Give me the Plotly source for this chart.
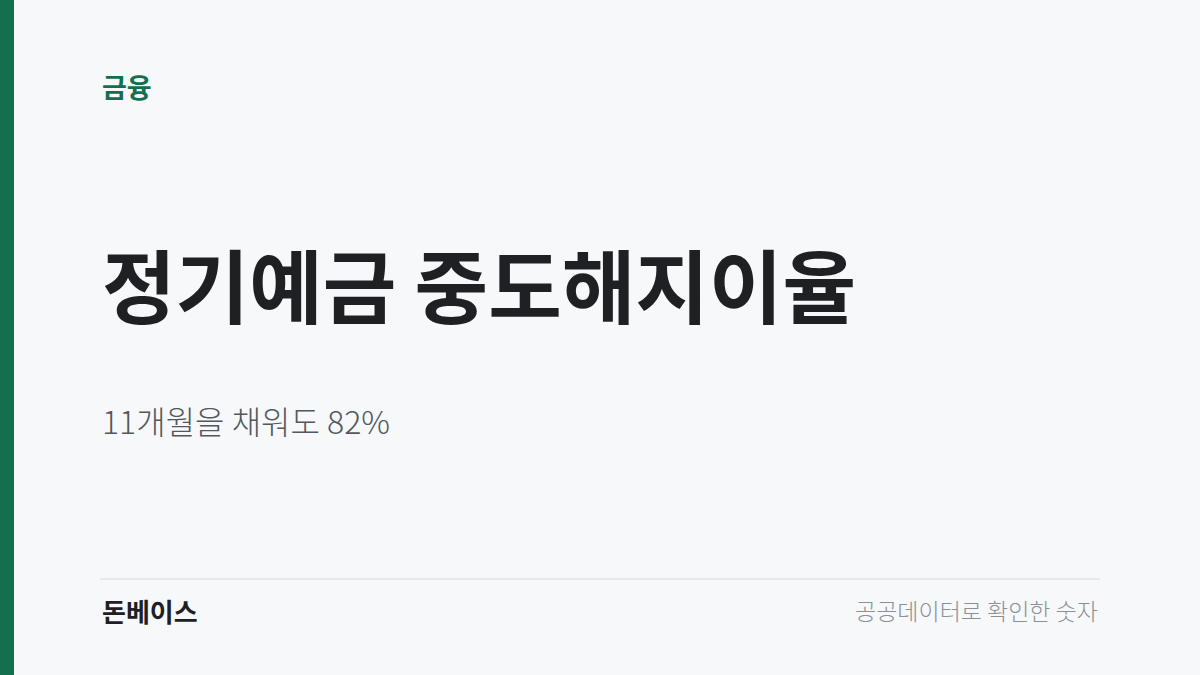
import plotly.graph_objects as go

# card texts
category = '금융'
title = '정기예금 중도해지이율'
subtitle = '11개월을 채워도 82%'
brand = '돈베이스'
tagline = '공공데이터로 확인한 숫자'

W, H = 1200, 675
FONT = 'Noto Sans CJK KR'
GREEN = '#13704f'


def px_x(x):
    return x / W


def px_y(y):
    return 1 - y / H


fig = go.Figure()

# left accent bar
fig.add_shape(type='rect', xref='paper', yref='paper',
              x0=0, x1=px_x(14), y0=0, y1=1,
              fillcolor=GREEN, line_width=0, layer='below')

# footer divider
fig.add_shape(type='line', xref='paper', yref='paper',
              x0=px_x(100), x1=px_x(1100), y0=px_y(579), y1=px_y(579),
              line=dict(color='#e3e5e8', width=1.5))

# text, x, y, size, colour, anchor, weight
texts = [
    (category, 100, 87, 27, GREEN, 'left', 700),
    (title, 100, 282, 80, '#1e2024', 'left', 700),
    (subtitle, 100, 420, 32, '#53585e', 'left', 300),
    (brand, 100, 610, 26, '#1e2024', 'left', 700),
    (tagline, 1100, 610, 23, '#8b9096', 'right', 300),
]

for txt, x, y, size, color, anchor, weight in texts:
    fig.add_annotation(
        text=txt, xref='paper', yref='paper', x=px_x(x), y=px_y(y),
        xanchor=anchor, yanchor='middle', showarrow=False,
        font=dict(family=FONT, size=size, color=color, weight=weight))

fig.update_xaxes(visible=False)
fig.update_yaxes(visible=False)
fig.update_layout(width=W, height=H, margin=dict(l=0, r=0, t=0, b=0),
                  paper_bgcolor='#f7f8fa', plot_bgcolor='#f7f8fa',
                  showlegend=False)

# drop the browser's default page margin so the card fills the window
fig.write_html('out.html', config={'displayModeBar': False},
               post_script="document.body.style.margin='0';")
